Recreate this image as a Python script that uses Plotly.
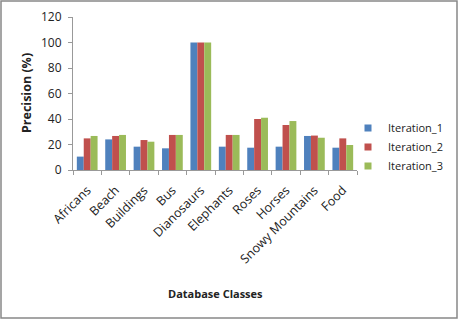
import plotly.graph_objects as go

categories = ["Africans", "Beach", "Buildings", "Bus", "Dianosaurs", "Elephants",
              "Roses", "Horses", "Snowy Mountains", "Food"]
iteration_1 = [10.5, 24, 18.3, 17, 100, 18.3, 17.5, 18.3, 26.7, 17.5]
iteration_2 = [24.8, 26.7, 23.5, 27.5, 100, 27.5, 40, 35.3, 27, 24.8]
iteration_3 = [26.7, 27.5, 22.2, 27.5, 100, 27.5, 41, 38.4, 25.3, 19.6]
series_names = ["Iteration_1", "Iteration_2", "Iteration_3"]
colors = ["#4F81BD", "#C0504D", "#9BBB59"]

font_family = "Open Sans, Liberation Sans, Arial, sans-serif"

fig = go.Figure()
for name, vals, c in zip(series_names, [iteration_1, iteration_2, iteration_3], colors):
    fig.add_trace(go.Bar(x=categories, y=vals, name=name, showlegend=False,
                         marker=dict(color=c, line=dict(width=0))))
# legend entries with small square symbols
for name, c in zip(series_names, colors):
    fig.add_trace(go.Scatter(x=[None], y=[None], mode="markers", name=name,
                             marker=dict(symbol="square", size=7, color=c)))

L, R, T, B = 73, 102, 17, 150
W, H = 459, 320
pw, ph = W - L - R, H - T - B

fig.update_layout(
    width=W, height=H,
    margin=dict(l=L, r=R, t=T, b=B, autoexpand=False),
    paper_bgcolor="white", plot_bgcolor="white",
    barmode="group", bargap=0.27, bargroupgap=0,
    font=dict(family=font_family, size=12, color="#222"),
    showlegend=True,
    legend=dict(x=(348 - L) / pw, y=(170 - 147) / ph, xanchor="left", yanchor="middle",
                font=dict(size=11), itemwidth=30, tracegroupgap=0, bgcolor="rgba(0,0,0,0)"),
    xaxis=dict(showline=True, linecolor="#999", ticks="outside", ticklen=4, tickcolor="#999",
               tickson="boundaries", tickangle=-45, showgrid=False, tickfont=dict(size=12.5),
               ticklabelstandoff=7, automargin=False),
    yaxis=dict(range=[0, 120], dtick=20, showline=True, linecolor="#999", ticks="outside",
               ticklen=4, tickcolor="#999", showgrid=False, tickfont=dict(size=12),
               ticklabelstandoff=4, automargin=False),
    shapes=[dict(type="rect", xref="paper", yref="paper",
                 x0=(1 - L) / pw, x1=(457 - L) / pw,
                 y0=(170 - 318) / ph, y1=(170 - 1) / ph,
                 line=dict(color="#888", width=1.5), fillcolor="rgba(0,0,0,0)", layer="below")],
    annotations=[
        dict(text="<b>Precision (%)</b>", xref="paper", yref="paper",
             x=(26 - L) / pw, y=(170 - 93) / ph, showarrow=False, textangle=-90,
             font=dict(size=12.5, color="#222"), xanchor="center", yanchor="middle"),
        dict(text="<b>Database Classes</b>", xref="paper", yref="paper",
             x=(215 - L) / pw, y=(170 - 293) / ph, showarrow=False,
             font=dict(size=11, color="#222"), xanchor="center", yanchor="middle"),
    ],
)

fig.write_html("out.html", config={"displayModeBar": False},
               post_script="document.body.style.margin='0';document.body.style.overflow='hidden';")
